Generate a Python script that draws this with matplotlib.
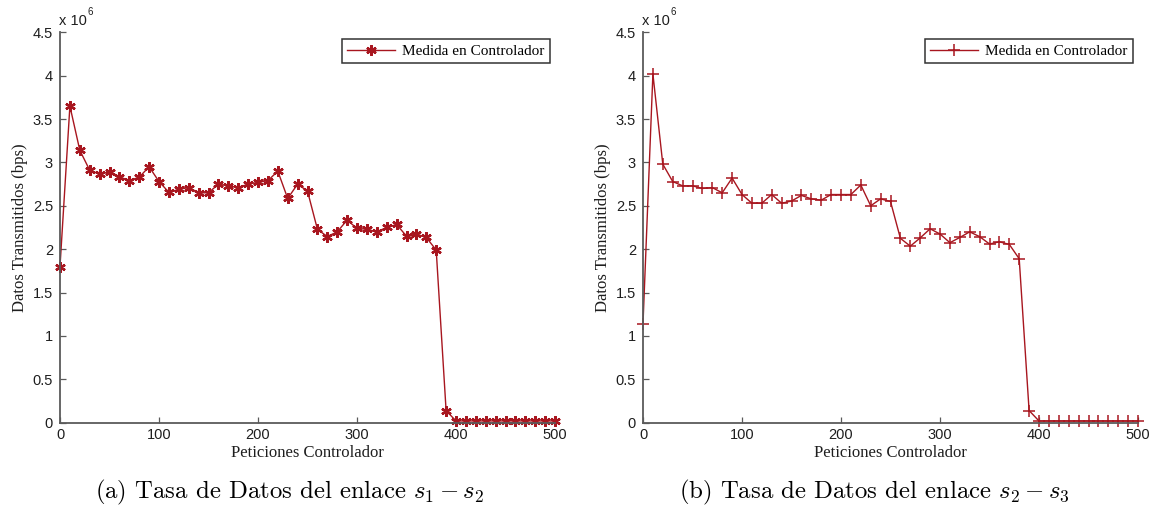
import matplotlib
matplotlib.use("Agg")
import matplotlib.pyplot as plt

plt.rcParams['mathtext.fontset'] = 'cm'

# peticiones al controlador (eje x) y tasa medida (x 10^6 bps)
peticiones = list(range(0, 510, 10))

tasa_s1_s2 = [1.80, 3.65, 3.14, 2.91, 2.865, 2.89, 2.835, 2.79, 2.83, 2.95,
              2.78, 2.655, 2.69, 2.71, 2.65, 2.65, 2.75, 2.73, 2.71, 2.75,
              2.77, 2.79, 2.90, 2.585, 2.75, 2.67, 2.23, 2.145, 2.20, 2.335,
              2.24, 2.23, 2.20, 2.25, 2.285, 2.15, 2.175, 2.135, 1.99, 0.14,
              0.02, 0.02, 0.02, 0.02, 0.02, 0.02, 0.02, 0.02, 0.02, 0.02, 0.02]

tasa_s2_s3 = [1.14, 4.02, 2.98, 2.78, 2.73, 2.73, 2.70, 2.71, 2.65, 2.82,
              2.63, 2.53, 2.53, 2.63, 2.53, 2.555, 2.62, 2.58, 2.565, 2.63,
              2.63, 2.63, 2.74, 2.50, 2.58, 2.55, 2.125, 2.035, 2.13, 2.235,
              2.175, 2.075, 2.135, 2.20, 2.145, 2.06, 2.085, 2.055, 1.89, 0.14,
              0.02, 0.02, 0.02, 0.02, 0.02, 0.02, 0.02, 0.02, 0.02, 0.02, 0.02]

xticks = [0, 100, 200, 300, 400, 500]
yticks = [0, 0.5, 1, 1.5, 2, 2.5, 3, 3.5, 4, 4.5]
ytick_labels = ['0', '0.5', '1', '1.5', '2', '2.5', '3', '3.5', '4', '4.5']

serie = 'Medida en Controlador'
captions = [r'(a) Tasa de Datos del enlace $s_1 - s_2$',
            r'(b) Tasa de Datos del enlace $s_2 - s_3$']

color = '#A8161F'
axis_grey = '#5a5a5a'
W, H = 1155, 516

fig = plt.figure(figsize=(W / 100, H / 100), dpi=100)

ax1 = fig.add_axes([60 / W, 1 - 422.7 / H, 495 / W, 390.4 / H])
ax2 = fig.add_axes([643 / W, 1 - 422.7 / H, 495 / W, 390.4 / H])

ax1.plot(peticiones, tasa_s1_s2, color=color, lw=1.0, marker=(6, 2, 0),
         ms=7.5, mew=1.7, label=serie, clip_on=False)
ax2.plot(peticiones, tasa_s2_s3, color=color, lw=1.0, marker='+',
         ms=9, mew=1.1, label=serie, clip_on=False)

for ax, cap, xc in [(ax1, captions[0], 290), (ax2, captions[1], 874)]:
    ax.set_xlim(0, 500)
    ax.set_ylim(0, 4.5)
    ax.set_xticks(xticks)
    ax.set_yticks(yticks)
    ax.set_yticklabels(ytick_labels)
    for s in ['top', 'right']:
        ax.spines[s].set_visible(False)
    for s in ['left', 'bottom']:
        ax.spines[s].set_color(axis_grey)
        ax.spines[s].set_linewidth(1.3)
    ax.tick_params(direction='in', length=4, width=0.9, color=axis_grey,
                   labelcolor='#1e1e1e', labelsize=10.5)
    ax.tick_params(axis='y', pad=5)
    ax.tick_params(axis='x', pad=4)
    for lab in ax.get_xticklabels() + ax.get_yticklabels():
        lab.set_fontfamily('Liberation Sans')

    ax.set_xlabel('Peticiones Controlador', family='Liberation Serif',
                  fontsize=12, color='#1e1e1e', labelpad=2)
    ax.set_ylabel('Datos Transmitidos (bps)', family='Liberation Serif',
                  fontsize=12, color='#1e1e1e', labelpad=3.5)

    # multiplicador del eje y
    ax.text(-0.002, 1.012, 'x 10', transform=ax.transAxes, fontsize=10.5,
            family='Liberation Sans', color='#1e1e1e', ha='left', va='bottom')
    ax.text(0.056, 1.038, '6', transform=ax.transAxes, fontsize=7,
            family='Liberation Sans', color='#1e1e1e', ha='left', va='bottom')

    leg = ax.legend(loc='upper right', bbox_to_anchor=(0.99, 0.983),
                    borderaxespad=0, fancybox=False, framealpha=1,
                    edgecolor='#333333', handlelength=3.1, borderpad=0.35,
                    handletextpad=0.5, prop={'family': 'Liberation Serif',
                                             'size': 11})
    leg.get_frame().set_linewidth(1.1)

    fig.text(xc / W, 1 - 492 / H, cap, family='cmr10', fontsize=17.8,
             ha='center', va='center')

fig.savefig('out.png', dpi=100, facecolor='white')
